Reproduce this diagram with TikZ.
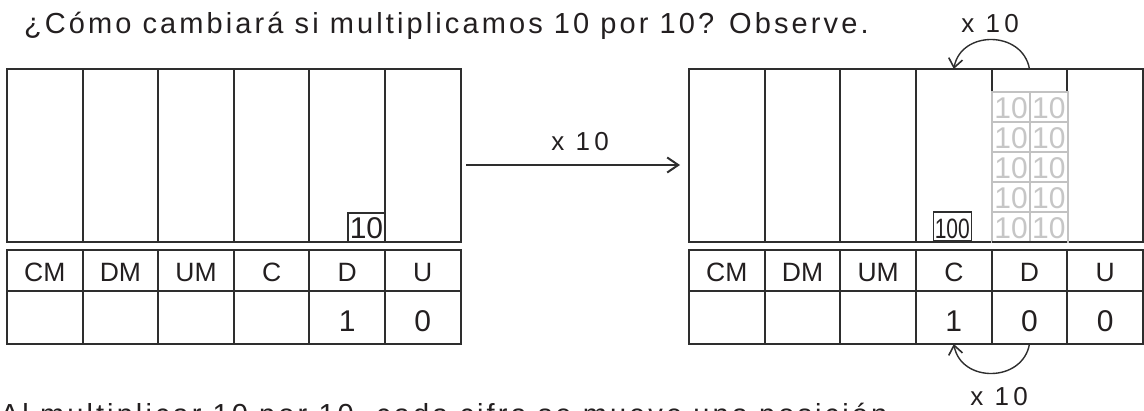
\documentclass[tikz,border=0pt]{standalone}
\usepackage{fontspec}
\setmainfont{Liberation Sans}
\newfontfamily\spaced[LetterSpace=10.7]{Liberation Sans}
\newfontfamily\lblfont[LetterSpace=16]{Liberation Sans}
\usetikzlibrary{arrows.meta}
\definecolor{ink}{HTML}{231F20}
\definecolor{linec}{HTML}{2E2E2E}
\definecolor{ghost}{HTML}{C6C6C6}
\definecolor{ghostline}{HTML}{C2C2C2}
\begin{document}
\begin{tikzpicture}[x=1pt,y=-1pt,
  every node/.style={text=ink,inner sep=0pt,outer sep=0pt},
  grid/.style={draw=linec,line width=2pt,anchor=north west,minimum width=75.6pt},
  upperbox/.style={grid,minimum height=173pt},
  headbox/.style={grid,minimum height=41pt,font=\fontsize{26.5pt}{28pt}\selectfont,text height=21pt,text depth=0pt},
  valbox/.style={grid,minimum height=53pt,font=\fontsize{30pt}{32pt}\selectfont,text height=27pt,text depth=0pt},
  ghostcell/.style={draw=ghostline,line width=2.2pt,fill=white,anchor=north west,minimum width=37.7pt,minimum height=30pt,text=ghost,font=\fontsize{30pt}{32pt}\selectfont,text height=22.6pt,text depth=0pt},
  tenbox/.style={draw=linec,line width=1.3pt,minimum width=37pt,minimum height=29pt,font=\fontsize{30pt}{32pt}\selectfont,text height=22pt,text depth=0pt},
  hundbox/.style={draw=linec,line width=1.3pt,minimum width=38pt,minimum height=29pt,font=\fontsize{28pt}{30pt}\selectfont,text height=23.6pt,text depth=0pt},
  lbl/.style={font=\lblfont\fontsize{26pt}{28pt}\selectfont,anchor=base},
  txt/.style={font=\spaced\fontsize{29pt}{32pt}\selectfont,anchor=base west},
  arcline/.style={draw=linec,line width=1.4pt,-{Straight Barb[length=9pt,width=14pt,line width=1.6pt]}},
  mainarrow/.style={draw=linec,line width=2pt,-{Straight Barb[length=11pt,width=15pt,line width=2pt]}}
]
\useasboundingbox (0,0) rectangle (1144,410);
\begin{scope}
\clip (0,0) rectangle (1144,410);

% title
\node[txt] (title) at (24,33) {¿Cómo cambiará si multiplicamos 10 por 10? Observe.};

% left table
\foreach \i/\lab/\v in {1/CM/{},2/DM/{},3/UM/{},4/C/{},5/D/1,6/U/0} {
  \node[upperbox] (LU\i) at ({7+(\i-1)*75.6},69) {};
  \node[headbox] (LH\i) at ({7+(\i-1)*75.6},250) {\lab};
  \node[valbox] (LV\i) at ({7+(\i-1)*75.6},291) {\v};
}
\node[tenbox,anchor=south east] (ten) at (LU5.south east) {10};

% right table
\foreach \i/\lab/\v in {1/CM/{},2/DM/{},3/UM/{},4/C/1,5/D/0,6/U/0} {
  \node[upperbox] (RU\i) at ({689+(\i-1)*75.67},69) {};
  \node[headbox] (RH\i) at ({689+(\i-1)*75.67},250) {\lab};
  \node[valbox] (RV\i) at ({689+(\i-1)*75.67},291) {\v};
}
\foreach \r in {0,...,4} {
  \node[ghostcell] (G\r a) at (992.3,{92+\r*30}) {10};
  \node[ghostcell] (G\r b) at (1030,{92+\r*30}) {10};
}
\draw[draw=linec,line width=2pt] (RU5.south west) -- (RU5.south east);
\node[hundbox,anchor=south] (hund) at ([yshift=1pt,xshift=-1.5pt]RU4.south) {\scalebox{0.75}[1]{100}};

% main arrow
\coordinate (mA) at (466,165);
\coordinate (mB) at (680,165);
\draw[mainarrow] (mA) -- (mB);
\node[lbl] (mlbl) at (580,150.5) {x 10};

% top arc
\draw[arcline] (RU5.north) .. controls +(-7,-39) and +(7,-39) .. (RU4.north);
\node[lbl] (tlbl) at (990,32.3) {x 10};

% bottom arc
\draw[arcline] (RV5.south) .. controls +(-7,39) and +(7,39) .. (RV4.south);
\node[lbl] (blbl) at (999,405) {x 10};

% bottom sentence (cut off by the picture edge, as in the reference)
\node[txt] (bottom) at (0,424) {Al multiplicar 10 por 10, cada cifra se mueve una posición.};
\end{scope}
\end{tikzpicture}
\end{document}
